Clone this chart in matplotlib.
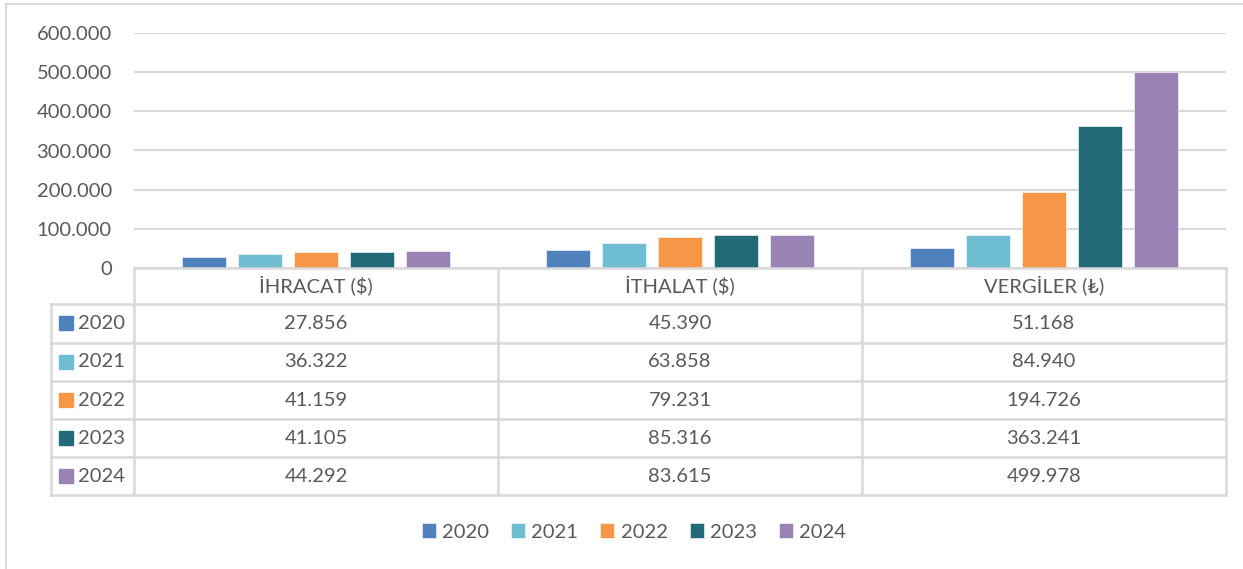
import numpy as np
import matplotlib.pyplot as plt
from matplotlib.ticker import FuncFormatter
from matplotlib.patches import Rectangle

categories = ["İHRACAT ($)", "İTHALAT ($)", "VERGİLER (₺)"]
years = ["2020", "2021", "2022", "2023", "2024"]
v2020 = [27856, 45390, 51168]
v2021 = [36322, 63858, 84940]
v2022 = [41159, 79231, 194726]
v2023 = [41105, 85316, 363241]
v2024 = [44292, 83615, 499978]
colors = ["#4F81BD", "#6FBDD1", "#F79646", "#236A78", "#9983B5"]

series = [v2020, v2021, v2022, v2023, v2024]

plt.rcParams['font.family'] = ['Lato', 'DejaVu Sans']
txt = "#595959"
grid = "#D9D9D9"
fs = 14.5

W, H = 1243, 569
fig = plt.figure(figsize=(W / 100, H / 100), dpi=100)

def box(x0, y0, x1, y1):
        # pixel box (top-left origin) -> figure fraction rect
        return [x0 / W, 1 - y1 / H, (x1 - x0) / W, (y1 - y0) / H]

# outer chart border (left and top only visible)
fig.add_artist(plt.Line2D([6 / W, 6 / W], [0, 1 - 4 / H], color=grid, lw=1.5))
fig.add_artist(plt.Line2D([6 / W, 1], [1 - 4 / H, 1 - 4 / H], color=grid, lw=1.5))

# bar chart
ax = fig.add_axes(box(134, 33, 1226, 268))
x = np.arange(len(categories))
step = 56 / 364
width = 44 / 364
for i, (vals, c, y) in enumerate(zip(series, colors, years)):
        ax.bar(x + (i - 2) * step, vals, width, color=c, label=y,
               edgecolor="white", linewidth=0.4, zorder=3)
ax.set_xlim(-0.5, len(categories) - 0.5)
ax.set_ylim(0, 600000)
ax.set_yticks(range(0, 600001, 100000))
ax.yaxis.set_major_formatter(FuncFormatter(lambda v, p: f"{int(v):,}".replace(",", ".")))
ax.set_xticks([])
ax.tick_params(axis="y", length=0, pad=16, labelsize=fs, labelcolor=txt)
ax.grid(axis="y", color=grid, lw=1.5, zorder=0)
for s in ax.spines.values():
        s.set_visible(False)

# data table
tax = fig.add_axes(box(51, 268, 1226, 495))
tax.set_xlim(51, 1226)
tax.set_ylim(495, 268)
tax.axis("off")
cols = [134, 498, 862, 1226]
rows = [304, 343, 381, 419, 457, 495]
lk = dict(color=grid, lw=1.8, clip_on=False)
tax.plot([134, 1226], [268, 268], **lk)
for xc in cols:
        tax.plot([xc, xc], [268, 495], **lk)
tax.plot([51, 51], [304, 495], **lk)
for yr in rows:
        tax.plot([51, 1226], [yr, yr], **lk)
for j, cat in enumerate(categories):
        tax.text((cols[j] + cols[j + 1]) / 2, 286, cat, ha="center", va="center",
                 fontsize=fs, color=txt)
for i, (vals, c, y) in enumerate(zip(series, colors, years)):
        yc = (rows[i] + rows[i + 1]) / 2
        tax.add_patch(Rectangle((59, yc - 7), 14, 14, color=c, clip_on=False))
        tax.text(78, yc, y, ha="left", va="center", fontsize=fs, color=txt)
        for j, v in enumerate(vals):
                tax.text((cols[j] + cols[j + 1]) / 2, yc, f"{v:,}".replace(",", "."),
                         ha="center", va="center", fontsize=fs, color=txt)

# legend
handles, labels = ax.get_legend_handles_labels()
fig.legend(handles, labels, loc="center", bbox_to_anchor=(634 / W, 1 - 532 / H),
           ncol=5, frameon=False, fontsize=fs, labelcolor=txt,
           handlelength=0.7, handleheight=0.7, handletextpad=0.3, columnspacing=1.1)

fig.savefig("out.png", dpi=100)
